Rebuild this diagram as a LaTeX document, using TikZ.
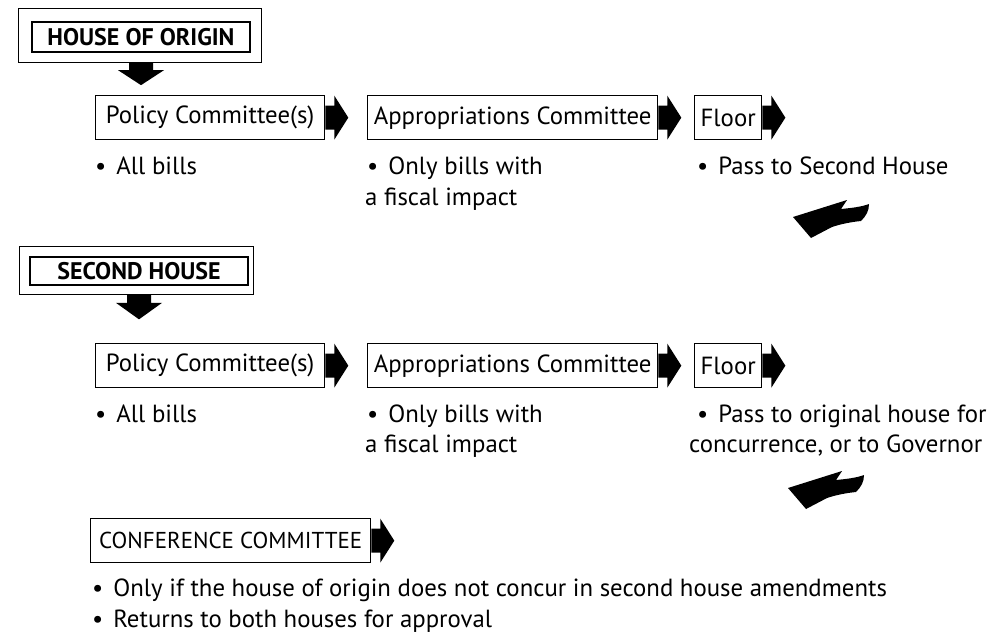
\documentclass[tikz,border=0pt]{standalone}
\usepackage{fontspec}
\setmainfont{PT Sans}
\newcommand\mybul{•\hskip 10pt}
\tikzset{
  inbox/.style={draw, line width=1.3pt, inner sep=0pt, font=\bfseries\fontsize{24}{30}\selectfont},
  outbox/.style={draw, line width=1.6pt},
  box/.style={draw, line width=1.3pt, minimum height=44pt, inner xsep=6pt, inner ysep=0pt,
    anchor=north west, font=\fontsize{24.8}{30}\selectfont},
  txt/.style={anchor=base west, inner sep=0pt, font=\fontsize{24.8}{30}\selectfont},
  rarrow/.pic={\fill (0,-12) -- (9,-12) -- (9,-22) -- (23,0) -- (9,22) -- (9,12) -- (0,12) -- cycle;},
  darrow/.pic={\fill (-12,0) -- (12,0) -- (12,7) -- (23,7) -- (0,22) -- (-23,7) -- (-12,7) -- cycle;},
  swoosh/.pic={\fill (0,0) -- (54,-17) -- (48,-8) .. controls (58,-9) and (68,-10) .. (76,-13)
      .. controls (76,-6) and (73,-1) .. (68,4) .. controls (58,5) and (48,7) .. (39,10) -- (18,21) -- cycle;}
}
\begin{document}
\begin{tikzpicture}[x=1pt,y=-1pt]
\useasboundingbox (0,0) rectangle (990,635);
% House of origin
\node[inbox, minimum width=218pt, minimum height=30pt] (hoo) at (141,37) {HOUSE OF ORIGIN};
\draw[outbox] ([xshift=-13pt,yshift=13pt]hoo.north west) rectangle ([xshift=11pt,yshift=-10pt]hoo.south east);
\pic at ([yshift=-10.5pt]hoo.south) {darrow};
\node[box, minimum width=229pt] (pol1) at (95,95) {Policy Committee(s)};
\pic at (pol1.east) {rarrow};
\node[box, minimum width=290pt] (app1) at (367,95) {Appropriations Committee};
\pic at (app1.east) {rarrow};
\node[box, minimum width=66pt] (flo1) at (694,95) {Floor};
\pic at (flo1.east) {rarrow};
\node[txt] (t1a) at (95,174) {\mybul All bills};
\node[txt] (t1b) at (367,174) {\mybul Only bills with};
\node[txt] (t1c) at (365,205) {a fiscal impact};
\node[txt] (t1d) at (697,174) {\mybul Pass to Second House};
\pic at (793,217) {swoosh};
% Second house
\node[inbox, minimum width=218pt, minimum height=28pt] (sh) at (139,271) {SECOND HOUSE};
\draw[outbox] ([xshift=-10pt,yshift=10pt]sh.north west) rectangle ([xshift=5pt,yshift=-9pt]sh.south east);
\pic[yscale=1.1] at ([yshift=-9.5pt]sh.south) {darrow};
\node[box, minimum width=229pt] (pol2) at (95,343) {Policy Committee(s)};
\pic at (pol2.east) {rarrow};
\node[box, minimum width=290pt] (app2) at (367,343) {Appropriations Committee};
\pic at (app2.east) {rarrow};
\node[box, minimum width=66pt] (flo2) at (694,343) {Floor};
\pic at (flo2.east) {rarrow};
\node[txt] (t2a) at (95,422) {\mybul All bills};
\node[txt] (t2b) at (367,422) {\mybul Only bills with};
\node[txt] (t2c) at (365,452) {a fiscal impact};
\node[txt] (t2d) at (697,422) {\mybul Pass to original house for};
\node[txt] (t2e) at (689,452) {concurrence, or to Governor};
\pic at (788,488) {swoosh};
% Conference
\node[box, minimum width=280pt, font=\fontsize{23}{28}\selectfont] (conf) at (90,518) {CONFERENCE COMMITTEE};
\pic at (conf.east) {rarrow};
\node[txt] (t3a) at (92,596) {\mybul Only if the house of origin does not concur in second house amendments};
\node[txt] (t3b) at (92,627) {\mybul Returns to both houses for approval};
\end{tikzpicture}
\end{document}
